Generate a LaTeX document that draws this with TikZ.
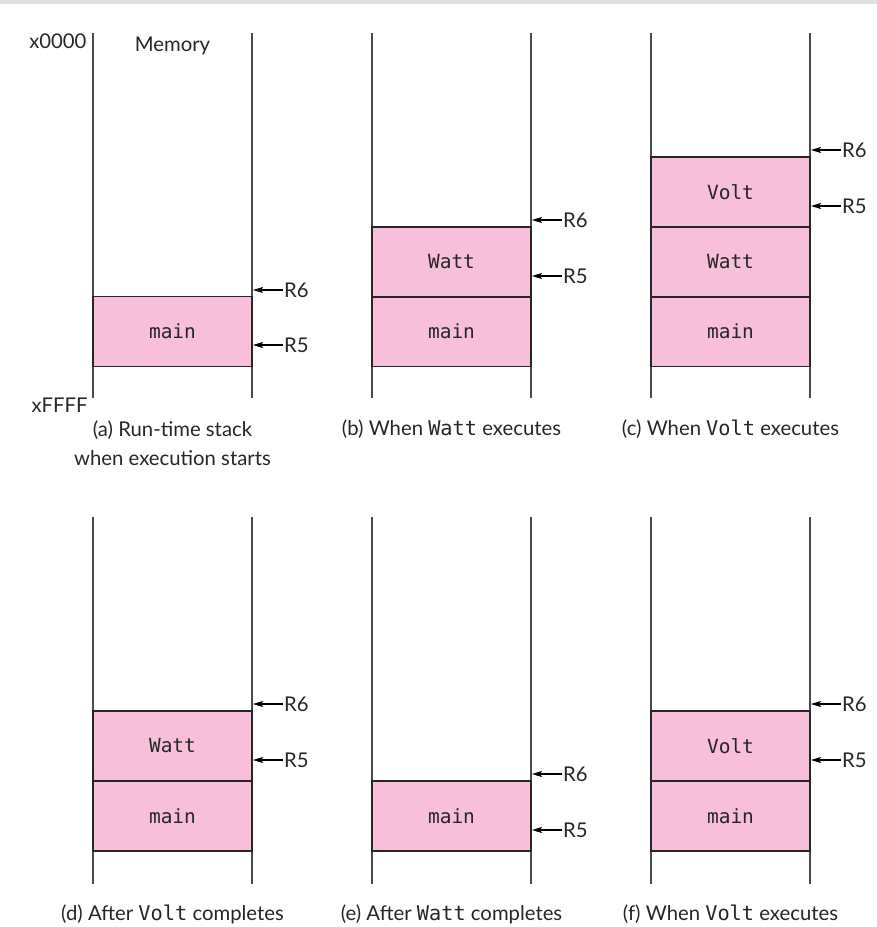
\documentclass[tikz,border=0pt]{standalone}
\usepackage{fontspec}
\setmainfont{Lato}
\newfontfamily\codefont{DejaVu Sans Mono}
\usetikzlibrary{arrows.meta}
\definecolor{framepink}{HTML}{F7BFD9}
\definecolor{wallgray}{HTML}{4A4A4A}
\begin{document}
\begin{tikzpicture}[x=1pt,y=-1pt,
  wall/.style={draw=wallgray,line width=1.6pt},
  frame/.style={draw=black!85,line width=1.2pt,fill=framepink,minimum width=159pt,minimum height=70pt,inner sep=0pt,font=\codefont\fontsize{19.5}{19.5}\selectfont,text=black!85},
  ptr/.style={draw=black,line width=1.1pt,-{Stealth[length=10pt,width=6pt,inset=2pt]}},
  reg/.style={anchor=west,inner sep=1pt,font=\fontsize{20.3}{20.3}\selectfont,text=black!85},
  caption/.style={align=center,font=\fontsize{20.3}{29}\selectfont,text=black!85},
  addr/.style={font=\fontsize{20.3}{20.3}\selectfont,text=black!85}]
\useasboundingbox (0,0) rectangle (877,927);
\fill[black!12] (0,0) rectangle (877,4);

% memory walls, top row
\foreach \x in {93,252,372,531,651,810}
  \draw[wall] (\x,33) -- (\x,398);
% memory walls, bottom row
\foreach \x in {93,252,372,531,651,810}
  \draw[wall] (\x,517) -- (\x,884);

\node[addr,anchor=east] (lo) at (90,41) {x0000};
\node[addr,anchor=east] (hi) at (91,405) {xFFFF};
\node[addr] (mem) at (172.5,46) {Memory};

% (a)
\node[frame] (amain) at (172.5,331.5) {main};
\node[reg] (a6) at (283,290) {R6};
\node[reg] (a5) at (283,345) {R5};
\coordinate (a6t) at (253,290);
\coordinate (a5t) at (253,345);
\draw[ptr] (a6.west) -- (a6t);
\draw[ptr] (a5.west) -- (a5t);
\node[caption] (acap) at (172.5,443) {(a) Run-time stack\\when execution starts};

% (b)
\node[frame] (bmain) at (451.5,331.5) {main};
\node[frame] (bwatt) at (451.5,262) {Watt};
\node[reg] (b6) at (562,220) {R6};
\node[reg] (b5) at (562,276) {R5};
\coordinate (b6t) at (532,220);
\coordinate (b5t) at (532,276);
\draw[ptr] (b6.west) -- (b6t);
\draw[ptr] (b5.west) -- (b5t);
\node[caption] (bcap) at (451.5,429) {(b) When {\codefont Watt} executes};

% (c)
\node[frame] (cmain) at (730.5,331.5) {main};
\node[frame] (cwatt) at (730.5,262) {Watt};
\node[frame] (cvolt) at (730.5,192) {Volt};
\node[reg] (c6) at (841,150) {R6};
\node[reg] (c5) at (841,206) {R5};
\coordinate (c6t) at (811,150);
\coordinate (c5t) at (811,206);
\draw[ptr] (c6.west) -- (c6t);
\draw[ptr] (c5.west) -- (c5t);
\node[caption] (ccap) at (730.5,429) {(c) When {\codefont Volt} executes};

% (d)
\node[frame] (dmain) at (172.5,816) {main};
\node[frame] (dwatt) at (172.5,746) {Watt};
\node[reg] (d6) at (283,704) {R6};
\node[reg] (d5) at (283,760) {R5};
\coordinate (d6t) at (253,704);
\coordinate (d5t) at (253,760);
\draw[ptr] (d6.west) -- (d6t);
\draw[ptr] (d5.west) -- (d5t);
\node[caption] (dcap) at (172.5,914) {(d) After {\codefont Volt} completes};

% (e)
\node[frame] (emain) at (451.5,816) {main};
\node[reg] (e6) at (562,774) {R6};
\node[reg] (e5) at (562,830) {R5};
\coordinate (e6t) at (532,774);
\coordinate (e5t) at (532,830);
\draw[ptr] (e6.west) -- (e6t);
\draw[ptr] (e5.west) -- (e5t);
\node[caption] (ecap) at (451.5,914) {(e) After {\codefont Watt} completes};

% (f)
\node[frame] (fmain) at (730.5,816) {main};
\node[frame] (fvolt) at (730.5,746) {Volt};
\node[reg] (f6) at (841,704) {R6};
\node[reg] (f5) at (841,760) {R5};
\coordinate (f6t) at (811,704);
\coordinate (f5t) at (811,760);
\draw[ptr] (f6.west) -- (f6t);
\draw[ptr] (f5.west) -- (f5t);
\node[caption] (fcap) at (730.5,914) {(f) When {\codefont Volt} executes};
\end{tikzpicture}
\end{document}
